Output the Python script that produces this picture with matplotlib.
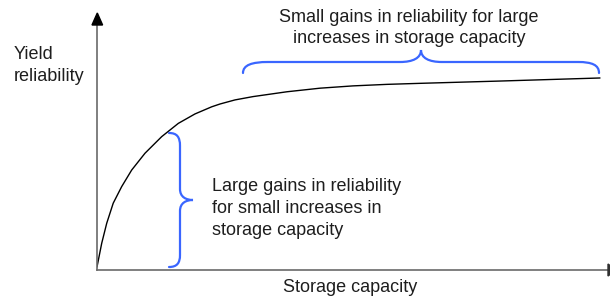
import matplotlib
matplotlib.use('Agg')
import matplotlib.pyplot as plt
from matplotlib.path import Path
from matplotlib.patches import PathPatch, Polygon
from matplotlib.transforms import Affine2D

plt.rcParams['font.family'] = ['Liberation Sans', 'DejaVu Sans']

# curve (0-100 on both axes)
storage = [0, 0.92, 1.89, 3.16, 4.81, 6.76, 9.36, 12.61, 15.85, 19.10, 22.36,
           23.98, 26.90, 30.41, 37.04, 43.47, 49.90, 56.53, 62.96, 78.56, 98.05]
reliability = [1.2, 10.5, 18.3, 26.2, 32.7, 39.2, 45.8, 52.3, 57.5, 61.2, 64.0,
               65.1, 66.7, 68.0, 69.9, 71.3, 72.2, 72.8, 73.2, 74.1, 75.3]

x_label = 'Storage capacity'
y_label = 'Yield\nreliability'
note_top = 'Small gains in reliability for large\nincreases in storage capacity'
note_left = 'Large gains in reliability\nfor small increases in\nstorage capacity'

W, H = 610, 299
fig = plt.figure(figsize=(W / 100, H / 100), dpi=100)
fig.patch.set_facecolor('white')

# axes placed so that origin sits where the drawn axes cross
ax = fig.add_axes([97 / W, 29 / H, 513 / W, 255 / H])
ax.set_xlim(0, 100)
ax.set_ylim(0, 100)
ax.axis('off')

ax.plot(storage, reliability, color='black', lw=1.0,
        solid_capstyle='round', solid_joinstyle='round')

# axis lines
axcol = '#6a6a6a'
ax.plot([0, 0], [0, 96], color=axcol, lw=1.2, clip_on=False)
ax.plot([0, 100], [0, 0], color=axcol, lw=1.2, clip_on=False)

# pixel transform (top-left origin) for the arrows and braces
pix = Affine2D().scale(1, -1).translate(0, H)
fig.patches.append(Polygon([(97.3, 13), (92, 25), (102.6, 25)], closed=True,
                           color='black', transform=pix))
fig.patches.append(Polygon([(608, 264), (608, 276), (616, 270)], closed=True,
                           color='#303030', transform=pix))

blue = '#3a66ff'
M, L, C = Path.MOVETO, Path.LINETO, Path.CURVE4

left_brace = [
    ((169, 133), M),
    ((177, 133), C), ((180, 137), C), ((180, 146), C),
    ((180, 189), L),
    ((180, 197), C), ((186, 200), C), ((193, 200), C),
    ((186, 200), C), ((180, 203), C), ((180, 211), C),
    ((180, 255), L),
    ((180, 263), C), ((177, 267), C), ((169, 267), C),
]
top_brace = [
    ((243, 73), M),
    ((243, 65), C), ((252, 62), C), ((268, 62), C),
    ((400, 62), L),
    ((413, 62), C), ((421, 58), C), ((421, 50), C),
    ((421, 58), C), ((429, 62), C), ((442, 62), C),
    ((578, 62), L),
    ((592, 62), C), ((599, 65), C), ((599, 73), C),
]
for br in (left_brace, top_brace):
    verts = [p for p, _ in br]
    codes = [c for _, c in br]
    fig.patches.append(PathPatch(Path(verts, codes), fill=False, edgecolor=blue,
                                 lw=1.6, capstyle='round', transform=pix))

tcol = '#1e1e1e'
fs = 13
ls = 1.38
fig.text(409 / W, 1 - 28 / H, note_top, ha='center', va='center', fontsize=fs,
         color=tcol, linespacing=ls)
fig.text(14 / W, 1 - 65.5 / H, y_label, ha='left', va='center', fontsize=fs,
         color=tcol, linespacing=ls)
fig.text(212 / W, 1 - 208.5 / H, note_left, ha='left', va='center', fontsize=fs,
         color=tcol, linespacing=ls)
fig.text(350 / W, 1 - 287 / H, x_label, ha='center', va='center', fontsize=fs,
         color=tcol)

fig.savefig('out.png', dpi=100)
